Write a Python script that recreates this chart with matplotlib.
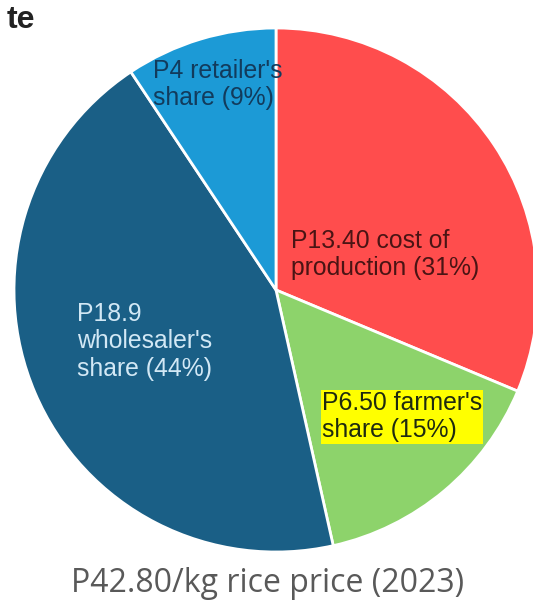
import matplotlib
matplotlib.use("Agg")
import matplotlib.pyplot as plt

# rice price breakdown, pesos per kg (2023)
labels = [
    "P13.40 cost of\nproduction (31%)",
    "P6.50 farmer's\nshare (15%)",
    "P18.9\nwholesaler's\nshare (44%)",
    "P4 retailer's\nshare (9%)",
]
values = [13.40, 6.50, 18.9, 4.0]
colors = ["#FF4D4D", "#8DD36B", "#1A5F86", "#1C9AD6"]
text_colors = ["#4A1414", "#1E2A10", "#D2E8F5", "#123B5C"]
title = "P42.80/kg rice price (2023)"

W, H = 533, 601
fig = plt.figure(figsize=(W / 100, H / 100), dpi=100)
ax = fig.add_axes([0, 0, 1, 1])

cx, cy, r = 276, H - 290, 262
wedges, _ = ax.pie(values, colors=colors, startangle=90, counterclock=False,
                   center=(cx, cy), radius=r, frame=True,
                   wedgeprops=dict(edgecolor="white", linewidth=2))
ax.set_xlim(0, W)
ax.set_ylim(0, H)
ax.axis("off")

# label positions (top-left of text block, pixel coords from top)
pos = [(291, 229), (322, 391), (77, 302), (153, 59)]
for lab, tc, (x, y) in zip(labels, text_colors, pos):
    kw = dict(fontsize=17.8, color=tc, ha="left", va="top", linespacing=1.18,
              family="Liberation Sans")
    if "farmer" in lab:
        kw["bbox"] = dict(boxstyle="square,pad=0.05", fc="#FFFF00", ec="none")
    ax.text(x, H - y, lab, **kw)

ax.text(W / 2 + 1, H - 584, title, ha="center", va="center", fontsize=23,
        color="#595959", family="Open Sans")

# heading fragment at the very top
ax.text(7, H - 28, "te", ha="left", va="baseline", fontsize=23,
        fontweight="bold", color="#222222", family="Liberation Sans")

fig.savefig("out.png", dpi=100)
